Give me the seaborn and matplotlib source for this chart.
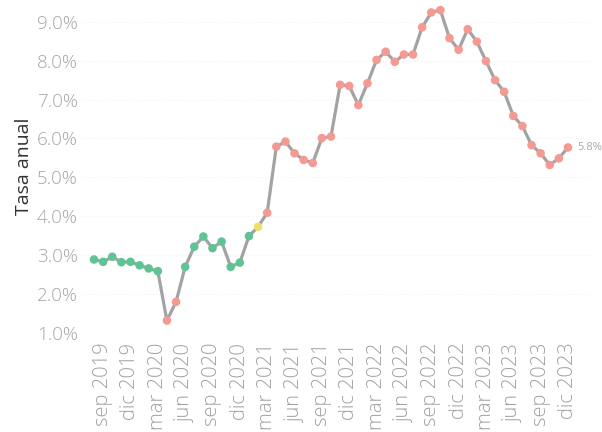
import numpy as np
import pandas as pd
import matplotlib
matplotlib.use("Agg")
import matplotlib.pyplot as plt
import seaborn as sns

# --- data -------------------------------------------------------------
periodos = (
    [f"{m} 2019" for m in ["ago", "sep", "oct", "nov", "dic"]]
    + [f"{m} {y}" for y in (2020, 2021, 2022, 2023)
       for m in ["ene", "feb", "mar", "abr", "may", "jun", "jul", "ago", "sep", "oct", "nov", "dic"]]
)
tasa = [
    2.89, 2.83, 2.96, 2.82, 2.83,                                          # 2019 ago-dic
    2.74, 2.66, 2.59, 1.32, 1.80, 2.70, 3.22, 3.48, 3.18, 3.35, 2.70, 2.81,  # 2020
    3.49, 3.73, 4.09, 5.79, 5.92, 5.62, 5.45, 5.37, 6.01, 6.05, 7.38, 7.35,  # 2021
    6.86, 7.42, 8.02, 8.23, 7.97, 8.16, 8.16, 8.86, 9.24, 9.30, 8.58, 8.28,  # 2022
    8.81, 8.49, 7.99, 7.50, 7.20, 6.58, 6.32, 5.83, 5.62, 5.32, 5.49, 5.77,  # 2023
]
tick_labels = ["sep 2019", "dic 2019", "mar 2020", "jun 2020", "sep 2020", "dic 2020",
               "mar 2021", "jun 2021", "sep 2021", "dic 2021", "mar 2022", "jun 2022",
               "sep 2022", "dic 2022", "mar 2023", "jun 2023", "sep 2023", "dic 2023"]
y_ticks = [1.0, 2.0, 3.0, 4.0, 5.0, 6.0, 7.0, 8.0, 9.0]

def estado(v):
    if 2.0 <= v <= 3.5:
        return "dentro"
    if 3.5 < v <= 4.0:
        return "alerta"
    return "fuera"

df = pd.DataFrame({"idx": np.arange(len(tasa)), "periodo": periodos, "tasa": tasa})
df["estado"] = [estado(v) for v in tasa]
palette = {"dentro": "#5fc494", "alerta": "#eee06a", "fuera": "#f49a93"}

# --- figure -----------------------------------------------------------
sns.set_style("white")
plt.rcParams["font.family"] = ["Open Sans", "DejaVu Sans"]

W, H = 602, 432
fig = plt.figure(figsize=(W / 100, H / 100), dpi=100)
left_px, right_px, top_px, bot_px = 82, 592, 0, 333
ax = fig.add_axes([left_px / W, 1 - bot_px / H, (right_px - left_px) / W, (bot_px - top_px) / H])

sns.lineplot(data=df, x="idx", y="tasa", ax=ax, color="#a3a3a3", linewidth=2.3, zorder=2)
sns.scatterplot(data=df, x="idx", y="tasa", hue="estado", palette=palette, ax=ax,
                s=38, edgecolor="none", linewidth=0, legend=False, zorder=3)

px_per_month = 9.115
x0 = 94
ax.set_xlim(-(x0 - left_px) / px_per_month, (right_px - x0) / px_per_month)
ax.set_ylim(1.0, 9.56)

tick_pos = [df.index[df["periodo"] == t][0] for t in tick_labels]
ax.set_xticks(tick_pos)
ax.set_xticklabels(tick_labels, rotation=90, fontsize=14.5, color="#a0a0a0", fontweight="light")
ax.set_yticks(y_ticks)
ax.set_yticklabels([f"{v:.1f}%" for v in y_ticks], fontsize=13.5, color="#a6a6a6", fontweight="light")
ax.tick_params(axis="x", length=0, pad=7)
ax.tick_params(axis="y", length=0, pad=3)

ax.set_xlabel("")
ax.set_ylabel("Tasa anual", fontsize=14, color="#333333", labelpad=3)

ax.grid(axis="y", color="#f3f3f3", linewidth=0.8, linestyle=":")
for s in ax.spines.values():
    s.set_visible(False)

last = df.iloc[-1]
ax.annotate(f"{last['tasa']:.1f}%", xy=(last["idx"], last["tasa"]), xytext=(7, 0),
            textcoords="offset points", va="center", ha="left", fontsize=8,
            color="#a8a8a8")

fig.savefig("out.png", dpi=100)
